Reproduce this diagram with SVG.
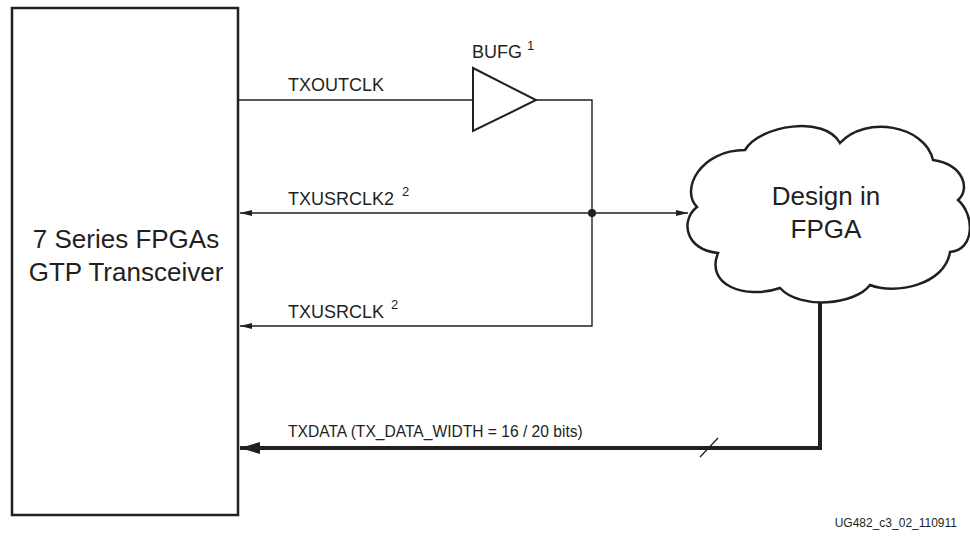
<svg xmlns="http://www.w3.org/2000/svg" width="970" height="537" viewBox="0 0 970 537">
<defs>
<style>
.lbl{font-family:"Liberation Sans",Arial,sans-serif;font-size:18px;fill:#231f20}
.sup{font-family:"Liberation Sans",Arial,sans-serif;font-size:13px;fill:#231f20}
.big{font-family:"Liberation Sans",Arial,sans-serif;font-size:26px;fill:#231f20;text-anchor:middle}
.thin{fill:none;stroke:#231f20;stroke-width:1.4}
.thick{fill:none;stroke:#231f20;stroke-width:4}
.shape{fill:#fff;stroke:#231f20;stroke-width:2.5}
</style>
<marker id="ah" viewBox="0 0 12 6" refX="12" refY="3" markerWidth="12" markerHeight="6" markerUnits="userSpaceOnUse" orient="auto">
<path d="M0,0 L12,3 L0,6 Z" fill="#231f20"/>
</marker>
<marker id="ahb" viewBox="0 0 20 12" refX="20" refY="6" markerWidth="20" markerHeight="12" markerUnits="userSpaceOnUse" orient="auto">
<path d="M0,0 L20,6 L0,12 Z" fill="#231f20"/>
</marker>
</defs>
<rect width="970" height="537" fill="#fff"/>
<g id="connectors">
<path class="thin" d="M238,100 H473"/>
<path class="thin" d="M536,100 H592 V326 H240" marker-end="url(#ah)"/>
<path class="thin" d="M592,213 H240" marker-end="url(#ah)"/>
<path class="thin" d="M592,213 H688" marker-end="url(#ah)"/>
<circle cx="592" cy="213" r="4" fill="#231f20"/>
<path class="thick" d="M820,302 V448 H240" marker-end="url(#ahb)"/>
<path d="M700,457 L718,438" stroke="#231f20" stroke-width="1.3"/>
<text class="lbl" x="288" y="91">TXOUTCLK</text>
<text class="lbl" x="288" y="205">TXUSRCLK2</text><text class="sup" x="402" y="196">2</text>
<text class="lbl" x="288" y="318">TXUSRCLK</text><text class="sup" x="391" y="309">2</text>
<text class="lbl" x="288" y="437" style="font-size:15.6px">TXDATA (TX_DATA_WIDTH = 16 / 20 bits)</text>
</g>
<g id="transceiver">
<rect class="shape" x="12" y="8" width="226" height="507"/>
<text class="big" x="126" y="248">7 Series FPGAs</text>
<text class="big" x="126" y="281">GTP Transceiver</text>
</g>
<g id="bufg">
<path class="shape" d="M473,68 L536,100 L473,131 Z" style="stroke-width:2"/>
<text class="lbl" x="472" y="58">BUFG</text><text class="sup" x="527" y="50">1</text>
</g>
<g id="design">
<path class="shape" d="M697,207 C680,190 700,150 745,150 C760,125 825,115 840,143 C865,115 925,125 933,160 C965,165 970,190 958,200 C975,215 975,250 950,252 C945,285 895,295 870,285 C855,305 800,310 780,288 C745,300 705,285 718,253 C685,250 680,220 697,207 Z"/>
<text class="big" x="826" y="205">Design in</text>
<text class="big" x="826" y="238">FPGA</text>
</g>
<text x="957" y="527" text-anchor="end" style="font-family:'Liberation Sans',Arial,sans-serif;font-size:12px;fill:#231f20">UG482_c3_02_110911</text>
</svg>
